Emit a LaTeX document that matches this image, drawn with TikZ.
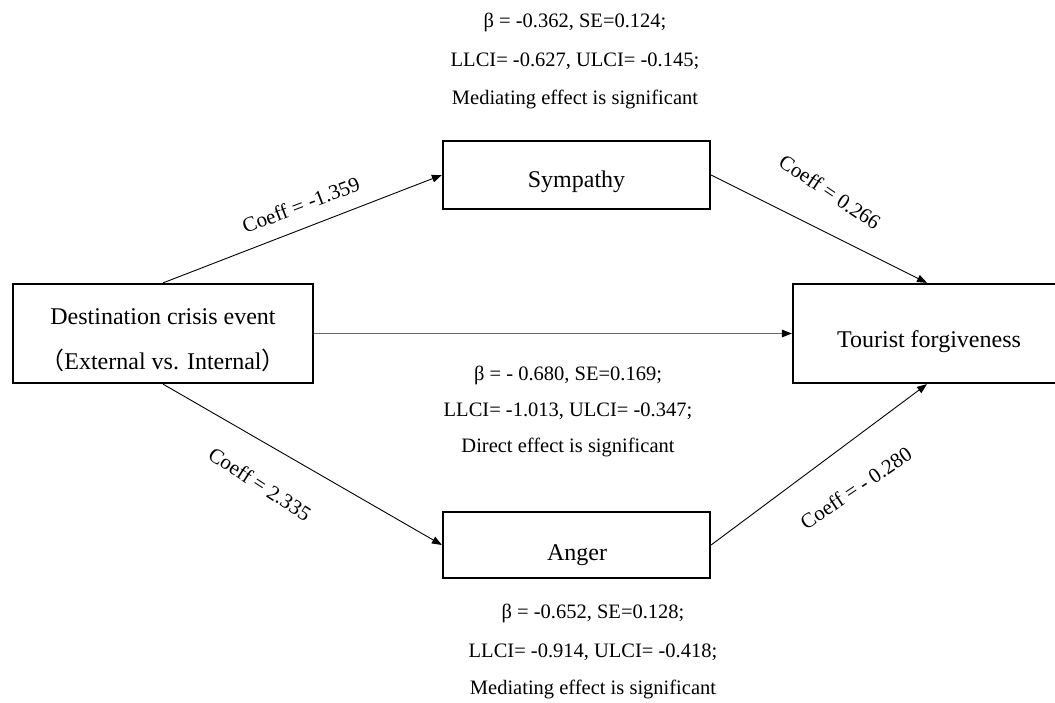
\documentclass[tikz,border=0pt]{standalone}
\usepackage{fontspec}
\setmainfont{Liberation Serif}
\newfontfamily\cjk{Noto Sans CJK SC}
\usetikzlibrary{arrows.meta,calc}
\begin{document}
\begin{tikzpicture}[x=1pt,y=-1pt,
  box/.style={draw=black, line width=2.2pt, rectangle, inner sep=0pt},
  boxtxt/.style={font=\fontsize{24}{28}\selectfont, inner sep=0pt, anchor=base},
  ann/.style={font=\fontsize{20.5}{24}\selectfont, inner sep=0pt, anchor=base},
  coef/.style={font=\fontsize{21}{24}\selectfont, inner sep=0pt, anchor=center},
  conn/.style={line width=0.9pt, -{Triangle[length=10pt,width=7.5pt]}},
  direct/.style={draw=black!60, line width=1.6pt, -{Triangle[length=10pt,width=7.5pt,color=black]}}]
\useasboundingbox (0,0) rectangle (1055,703);
\fill[white] (0,0) rectangle (1055,703);

% boxes
\node[box, minimum width=300pt, minimum height=99pt] (dest) at (163,333.5) {};
\node[box, minimum width=267pt, minimum height=68pt] (sym) at (576.5,175) {};
\node[box, minimum width=267pt, minimum height=66pt] (ang) at (576.5,545) {};
\node[box, minimum width=268pt, minimum height=99pt] (tour) at (927,333.5) {};

% box texts
\node[boxtxt] (d1) at (163,325) {Destination crisis event};
\node[boxtxt] (d2) at (163,369) {{\cjk （}External vs. Internal{\cjk ）}};
\node[boxtxt] (symt) at (576.5,188) {Sympathy};
\node[boxtxt] (angt) at (577,560) {Anger};
\node[boxtxt] (tourt) at (929,348) {Tourist forgiveness};

% connectors
\draw[conn] (dest.north) -- (sym.west);
\draw[conn] (sym.east) -- (tour.north);
\draw[direct] (dest.east) -- (tour.west);
\draw[conn] (dest.south) -- (ang.west);
\draw[conn] (ang.east) -- (tour.south);

% coefficient labels
\node[coef, rotate=21] (c1) at (301,205) {Coeff = -1.359};
\node[coef, rotate=-34] (c2) at (830,192) {Coeff = 0.266};
\node[coef, rotate=-33] (c3) at (260,484) {Coeff = 2.335};
\node[coef, rotate=34] (c4) at (856,488) {Coeff = - 0.280};

% top annotation
\node[ann] (t1) at (575,28) {β = -0.362, SE=0.124;};
\node[ann] (t2) at (575,67) {LLCI= -0.627, ULCI= -0.145;};
\node[ann] (t3) at (575,105) {Mediating effect is significant};

% middle annotation
\node[ann] (m1) at (568,380) {β = - 0.680, SE=0.169;};
\node[ann] (m2) at (568,416) {LLCI= -1.013, ULCI= -0.347;};
\node[ann] (m3) at (568,452) {Direct effect is significant};

% bottom annotation
\node[ann] (b1) at (593,618) {β = -0.652, SE=0.128;};
\node[ann] (b2) at (593,657) {LLCI= -0.914, ULCI= -0.418;};
\node[ann] (b3) at (593,694) {Mediating effect is significant};
\end{tikzpicture}
\end{document}
